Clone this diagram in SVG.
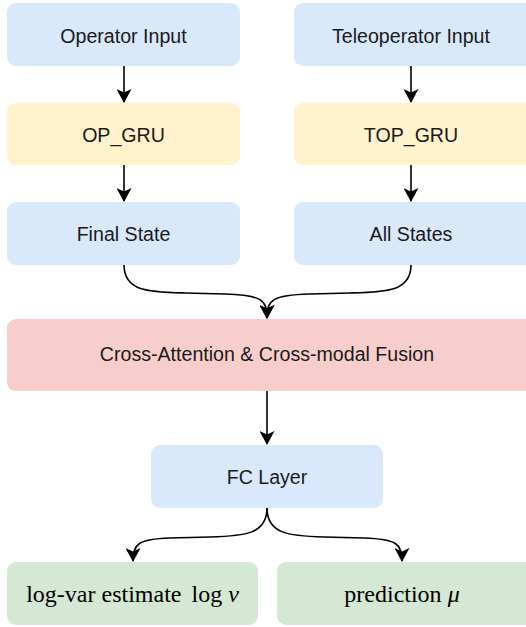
<svg xmlns="http://www.w3.org/2000/svg" width="526" height="627" viewBox="0 0 526 627">
<defs>
<style>
.box{stroke:none}
.blue{fill:#dae8fc}.yellow{fill:#fff2cc}.red{fill:#f8cecc}.green{fill:#d5e8d4}
.lbl{font-family:"Liberation Sans",Arial,sans-serif;font-size:19.6px;fill:#1a1a1a;text-anchor:middle}
.math{font-family:"Liberation Serif","Times New Roman",serif;font-size:24px;fill:#000;text-anchor:middle}
.edge{fill:none;stroke:#000;stroke-width:1.6}
</style>
<marker id="ah" viewBox="0 0 14 15" refX="13" refY="7.5" markerWidth="14" markerHeight="15" markerUnits="userSpaceOnUse" orient="auto">
<path d="M0,0 L14,7.5 L0,15 L3.5,7.5 Z" fill="#000"/>
</marker>
</defs>
<g id="operator-input"><rect class="box blue" x="7" y="3" width="233" height="63" rx="9"/><text class="lbl" x="123.5" y="43">Operator Input</text></g>
<g id="teleoperator-input"><rect class="box blue" x="294" y="3" width="240" height="63" rx="9"/><text class="lbl" x="411" y="43">Teleoperator Input</text></g>
<g id="op-gru"><rect class="box yellow" x="7" y="103" width="233" height="62" rx="9"/><text class="lbl" x="123.5" y="141.5">OP_GRU</text></g>
<g id="top-gru"><rect class="box yellow" x="294" y="103" width="240" height="62" rx="9"/><text class="lbl" x="411" y="141.5">TOP_GRU</text></g>
<g id="final-state"><rect class="box blue" x="7" y="202" width="233" height="63" rx="9"/><text class="lbl" x="123.5" y="240.5">Final State</text></g>
<g id="all-states"><rect class="box blue" x="294" y="202" width="240" height="63" rx="9"/><text class="lbl" x="411" y="240.5">All States</text></g>
<g id="cross-attention"><rect class="box red" x="7" y="319" width="527" height="72" rx="9"/><text class="lbl" x="267" y="361">Cross-Attention &amp; Cross-modal Fusion</text></g>
<g id="fc-layer"><rect class="box blue" x="151" y="445" width="232" height="63" rx="9"/><text class="lbl" x="267" y="484">FC Layer</text></g>
<g id="log-var"><rect class="box green" x="7" y="562" width="251" height="63" rx="9"/><text class="math" x="132.5" y="601.5">log-var estimate<tspan dx="10">log </tspan><tspan font-style="italic">ν</tspan></text></g>
<g id="prediction"><rect class="box green" x="277" y="562" width="257" height="63" rx="9"/><text class="math" x="402" y="601.5">prediction <tspan font-style="italic">μ</tspan></text></g>
<g id="connectors">
<path class="edge" d="M124,66 L124,102" marker-end="url(#ah)"/>
<path class="edge" d="M411,66 L411,102" marker-end="url(#ah)"/>
<path class="edge" d="M124,165 L124,201" marker-end="url(#ah)"/>
<path class="edge" d="M411,165 L411,201" marker-end="url(#ah)"/>
<path class="edge" d="M124,265 C124,292 150,292 185,293 L225,294 C262,295 267,300 267,318" marker-end="url(#ah)"/>
<path class="edge" d="M411,265 C411,292 385,292 350,293 L310,294 C272,295 267,300 267,318" marker-end="url(#ah)"/>
<path class="edge" d="M267,391 L267,444" marker-end="url(#ah)"/>
<path class="edge" d="M267,508 C267,534 245,536 210,537 L170,538 C138,539 133,544 133,561" marker-end="url(#ah)"/>
<path class="edge" d="M267,508 C267,534 289,536 324,537 L364,538 C397,539 402,544 402,561" marker-end="url(#ah)"/>
</g>
</svg>
